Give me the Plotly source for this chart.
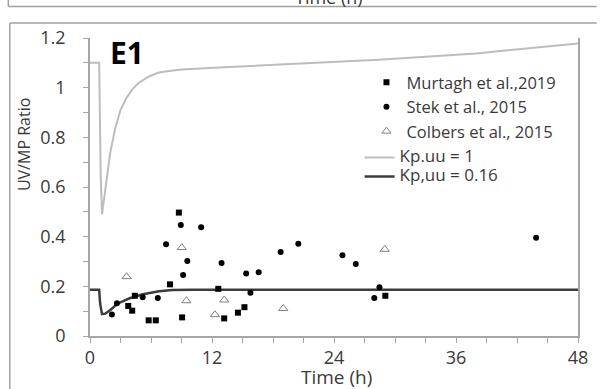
import plotly.graph_objects as go

# Observed UV/MP ratios
murtagh_t = [8.74, 7.87, 9.06, 5.77, 6.47, 3.76, 4.15, 4.41, 12.62, 13.2, 14.55, 15.19, 29.05]
murtagh_r = [0.497, 0.208, 0.075, 0.063, 0.063, 0.121, 0.102, 0.162, 0.19, 0.071, 0.094, 0.116, 0.162]

stek_t = [2.15, 2.65, 5.18, 6.67, 7.48, 8.93, 9.57, 9.16, 10.93, 12.94, 15.36, 15.78,
          16.59, 18.75, 20.49, 24.83, 26.14, 28.47, 27.96, 43.88]
stek_r = [0.087, 0.132, 0.156, 0.153, 0.369, 0.447, 0.302, 0.246, 0.438, 0.294, 0.252, 0.174,
          0.257, 0.338, 0.371, 0.325, 0.29, 0.196, 0.153, 0.396]

colbers_t = [3.6, 9.03, 9.48, 12.29, 13.2, 19.01, 28.99]
colbers_r = [0.239, 0.356, 0.142, 0.086, 0.145, 0.111, 0.349]

# Simulated ratio, Kp,uu = 1
sim1_t = [0, 0.9, 0.95, 1.05, 1.18, 1.4, 1.7, 2.0, 2.5, 3.0, 3.6, 4.2, 4.8, 5.8, 6.7,
          7.4, 9.0, 12.2, 18.7, 28.4, 38, 48]
sim1_r = [1.10, 1.10, 0.95, 0.65, 0.49, 0.55, 0.65, 0.74, 0.84, 0.91, 0.96, 0.995, 1.02,
          1.045, 1.06, 1.065, 1.073, 1.08, 1.092, 1.112, 1.138, 1.178]

# Simulated ratio, Kp,uu = 0.16
sim2_t = [0, 0.9, 1.0, 1.18, 1.5, 2.0, 2.7, 3.9, 5.2, 6.8, 8.1, 10, 48]
sim2_r = [0.186, 0.186, 0.13, 0.088, 0.09, 0.105, 0.13, 0.152, 0.168, 0.18, 0.185, 0.186, 0.186]

x_ticks = [0, 12, 24, 36, 48]
y_ticks = [0, 0.2, 0.4, 0.6, 0.8, 1, 1.2]
y_tick_text = ["0", "0.2", "0.4", "0.6", "0.8", "1", "1.2"]

FONT = "Open Sans, Liberation Sans, sans-serif"
TEXT = "#3a3a3a"
AXIS = "#a6a6a6"


def big(name):
    return f'<span style="font-size:17px">{name}</span>'


fig = go.Figure()

fig.add_trace(go.Scatter(x=sim1_t, y=sim1_r, mode="lines", name=big("Kp.uu = 1"),
                         line=dict(color="#bdbdbd", width=2), legend="legend2"))
fig.add_trace(go.Scatter(x=sim2_t, y=sim2_r, mode="lines", name=big("Kp,uu = 0.16"),
                         line=dict(color="#3c3c3c", width=2.5), legend="legend2"))
fig.add_trace(go.Scatter(x=murtagh_t, y=murtagh_r, mode="markers", name="Murtagh et al.,2019",
                         marker=dict(symbol="square", size=6, color="black")))
fig.add_trace(go.Scatter(x=stek_t, y=stek_r, mode="markers", name="Stek et al., 2015",
                         marker=dict(symbol="circle", size=6, color="black")))
fig.add_trace(go.Scatter(x=colbers_t, y=colbers_r, mode="markers", name="Colbers et al., 2015",
                         marker=dict(symbol="triangle-up-open", size=8, color="#808080",
                                     line=dict(width=1))))

W, H = 600, 389
L, R, T, B = 90, 14, 38, 53
pw, ph = W - L - R, H - T - B


def px_x(px):
    return (px - L) / pw


def px_y(py):
    return (H - B - py) / ph


frame = dict(color="#a0a0a0", width=1.5)
shapes = [
    # frame of the panel above (only its lower edge shows)
    dict(type="line", xref="paper", yref="paper", x0=px_x(7), x1=px_x(605),
         y0=px_y(6.5), y1=px_y(6.5), line=frame),
    dict(type="line", xref="paper", yref="paper", x0=px_x(7), x1=px_x(7),
         y0=px_y(6.5), y1=px_y(-5), line=frame),
    # frame of this panel
    dict(type="line", xref="paper", yref="paper", x0=px_x(8.5), x1=px_x(605),
         y0=px_y(23), y1=px_y(23), line=frame),
    dict(type="line", xref="paper", yref="paper", x0=px_x(8.5), x1=px_x(8.5),
         y0=px_y(23), y1=px_y(400), line=frame),
]


def label(text, x, y, size, angle=0, weight="normal", color=TEXT):
    return dict(text=text, xref="paper", yref="paper", x=px_x(x), y=px_y(y),
                xanchor="center", yanchor="middle", textangle=angle, showarrow=False,
                font=dict(family=FONT, size=size, color=color, weight=weight))


annotations = [
    label("E1", 128, 53, 30, weight="bold", color="black"),
    label("UV/MP Ratio", 23, 145, 16, angle=-90),
    label("Time (h)", 341, 377, 19),
    label("Time (h)", 333, -3, 18),
]

fig.update_layout(
    width=W, height=H,
    margin=dict(l=L, r=R, t=T, b=B),
    paper_bgcolor="white", plot_bgcolor="white",
    font=dict(family=FONT, color=TEXT),
    showlegend=True,
    legend=dict(x=px_x(371), y=px_y(65), xanchor="left", yanchor="top",
                bgcolor="rgba(0,0,0,0)", font=dict(family=FONT, size=16.5, color=TEXT),
                traceorder="normal"),
    legend2=dict(x=px_x(364), y=px_y(143), xanchor="left", yanchor="top",
                 bgcolor="rgba(0,0,0,0)", font=dict(family=FONT, size=12, color=TEXT),
                 traceorder="normal"),
    shapes=shapes,
    annotations=annotations,
)

fig.update_xaxes(
    range=[0, 48], tickvals=x_ticks, showgrid=False, zeroline=False,
    showline=True, linecolor=AXIS, linewidth=1.5,
    ticks="outside", ticklen=5, tickcolor=AXIS,
    minor=dict(dtick=3, ticks="outside", ticklen=5, tickcolor=AXIS),
    tickfont=dict(family=FONT, size=18, color=TEXT),
)
fig.update_yaxes(
    range=[0, 1.2], tickvals=y_ticks, ticktext=y_tick_text,
    showgrid=False, zeroline=False,
    showline=True, mirror=True, linecolor=AXIS, linewidth=1.5,
    ticks="outside", ticklen=5, tickcolor=AXIS,
    minor=dict(dtick=0.1, ticks="outside", ticklen=5, tickcolor=AXIS),
    tickfont=dict(family=FONT, size=18, color=TEXT), ticklabelstandoff=14,
)

fig.write_html("out.html")
